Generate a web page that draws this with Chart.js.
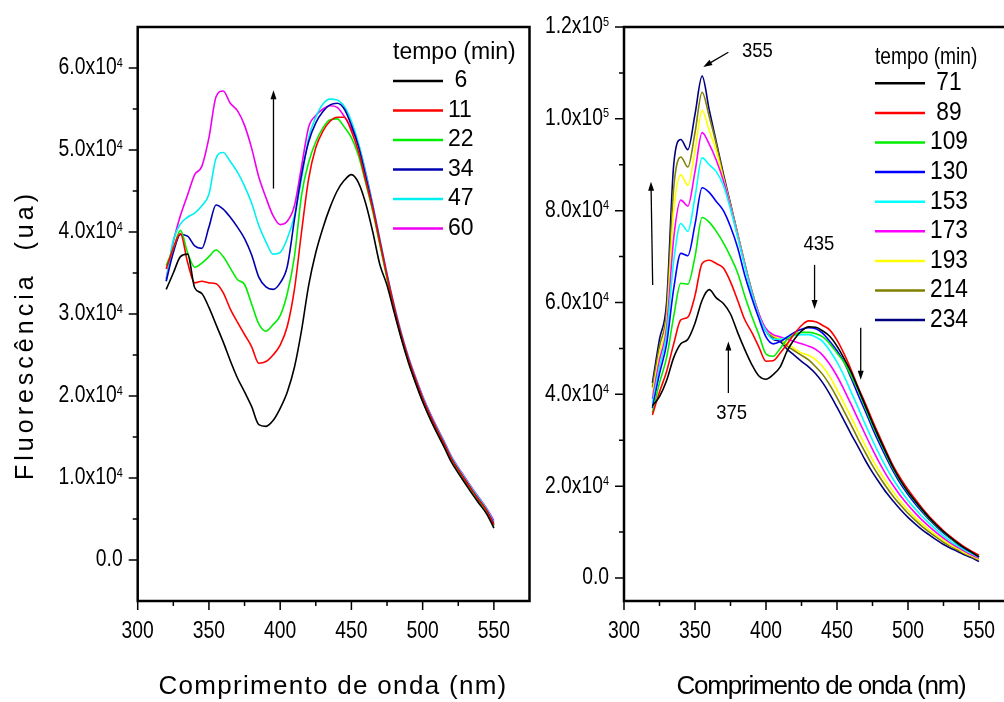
<!DOCTYPE html>
<html>
<head>
<meta charset="utf-8">
<script src="https://cdn.jsdelivr.net/npm/chart.js@4.4.1/dist/chart.umd.min.js"></script>
<style>
  html, body { margin: 0; padding: 0; background: #fff; overflow: hidden; width: 1004px; height: 702px; }
  #left { position: absolute; left: 0; top: 0; }
  #right { position: absolute; left: 545px; top: 0; }
</style>
</head>
<body>
<canvas id="left" width="545" height="702"></canvas>
<canvas id="right" width="485" height="702"></canvas>
<script>
// Fluorescence spectra, values in thousands (x10^3 ua)
const wavelengths = [320,325,330,335,340,345,350,355,360,365,370,375,380,385,390,395,400,405,410,415,420,425,430,435,440,445,450,455,460,465,470,475,480,485,490,495,500,505,510,515,520,525,530,535,540,545,550];

// left panel: tempo (min)
const leftTimes = [' 6', '11', '22', '34', '47', '60'];
const leftColors = ['#000000', '#ff0000', '#00ee00', '#0000b0', '#00f0f0', '#f000f0'];
const left06 = [33.0,35.0,37.0,37.3,33.2,32.5,30.8,28.7,26.6,24.3,22.2,20.5,18.7,16.5,16.3,17.0,18.5,20.5,23.5,28.0,33.5,37.5,40.5,43.0,45.0,46.3,47.0,46.0,43.5,40.0,36.0,33.5,30.2,27.0,24.1,21.6,19.3,17.3,15.5,13.8,12.0,10.6,9.3,8.0,6.8,5.6,3.9];
const left11 = [35.5,38.0,39.8,36.3,33.8,34.0,33.8,33.7,32.6,30.6,29.0,27.5,26.0,24.0,24.2,25.0,26.2,28.5,33.0,40.0,46.5,50.3,52.3,53.5,54.0,54.0,52.3,49.8,46.3,42.8,38.7,34.6,30.8,27.4,24.5,22.0,19.7,17.7,15.9,14.2,12.4,11.0,9.7,8.4,7.2,6.0,4.3];
const left22 = [35.9,38.0,40.2,37.5,35.7,36.2,37.0,37.8,37.0,35.6,34.2,33.6,31.2,28.8,27.9,28.7,29.8,32.5,37.0,44.5,48.5,51.0,52.7,53.7,53.8,52.8,51.5,49.3,46.0,42.5,38.4,34.3,30.5,27.1,24.2,21.7,19.4,17.4,15.6,13.9,12.2,10.8,9.5,8.2,7.0,5.8,4.1];
const left34 = [34.0,37.5,39.7,39.5,38.3,38.0,40.6,43.3,42.8,41.8,40.6,39.2,37.2,34.5,33.3,33.0,33.8,35.8,41.5,47.0,51.0,53.3,54.7,55.5,55.7,55.0,53.0,50.4,46.8,43.0,38.8,34.6,30.8,27.4,24.5,22.0,19.7,17.7,15.9,14.2,12.4,11.0,9.7,8.4,7.2,6.0,4.4];
const left47 = [34.0,39.0,41.0,41.8,42.3,43.2,44.6,49.0,49.7,48.6,47.3,45.6,43.5,40.8,38.8,37.3,37.5,39.2,42.0,46.5,51.5,54.0,55.6,56.2,56.1,55.3,53.5,50.8,47.2,43.2,39.0,34.8,31.0,27.6,24.7,22.2,19.9,17.9,16.1,14.4,12.6,11.2,9.9,8.6,7.4,6.2,4.6];
const left60 = [34.3,38.8,42.0,44.5,47.0,48.0,51.5,56.5,57.2,55.7,54.8,53.0,50.2,46.7,44.2,42.0,40.9,41.3,43.2,48.0,52.8,54.2,55.0,55.4,55.2,54.1,52.6,50.6,47.3,43.3,39.1,34.9,31.1,27.7,24.8,22.3,20.0,18.0,16.2,14.5,12.7,11.3,10.0,8.7,7.5,6.3,4.8];

// right panel: tempo (min)
const rightTimes = [' 71', ' 89', '109', '130', '153', '173', '193', '214', '234'];
const rightColors = ['#000000', '#ff0000', '#00ee00', '#0000ff', '#00ffff', '#ff00ff', '#ffff00', '#808000', '#000080'];
const right071 = [37.5,39.5,43.0,48.0,51.0,52.0,55.5,60.5,62.8,61.0,59.8,57.5,53.5,49.8,46.5,44.0,43.3,44.3,46.0,49.5,52.0,53.8,54.7,54.6,53.8,52.6,50.5,47.8,44.8,41.2,37.5,33.8,30.3,27.0,23.8,21.1,18.8,16.8,14.9,13.1,11.5,10.1,8.8,7.6,6.5,5.6,4.6];
const right089 = [35.5,40.5,45.0,51.0,56.2,56.8,61.5,68.5,69.2,68.5,67.5,64.5,60.5,56.3,53.5,50.3,47.2,47.3,49.0,51.0,53.2,55.0,56.0,55.8,55.0,54.0,51.8,48.8,45.3,41.5,38.0,34.3,30.8,27.4,24.2,21.6,19.3,17.2,15.2,13.4,11.8,10.3,9.0,7.8,6.7,5.8,5.0];
const right109 = [36.0,42.5,48.0,57.0,64.2,64.0,70.0,78.5,77.5,75.5,73.0,70.0,66.5,61.5,57.0,53.0,48.8,48.3,50.0,52.0,53.0,53.5,53.5,53.2,52.5,51.0,49.0,47.0,44.0,40.8,37.0,33.3,29.9,26.6,23.5,20.9,18.6,16.6,14.7,12.9,11.4,10.0,8.7,7.5,6.5,5.6,4.7];
const right130 = [37.0,44.5,51.0,63.0,70.7,70.2,77.0,85.0,84.0,82.0,80.0,76.5,72.0,66.0,61.0,56.5,52.5,51.0,51.5,52.5,53.5,54.2,54.5,54.3,53.3,51.5,49.5,47.0,43.5,39.8,36.3,32.6,29.2,26.0,23.0,20.4,18.2,16.2,14.4,12.7,11.2,9.8,8.6,7.4,6.4,5.5,4.6];
const right153 = [38.0,46.0,53.0,69.0,77.2,75.5,83.0,91.5,90.0,88.5,85.5,80.3,74.3,68.0,62.0,57.0,53.8,52.0,52.0,52.5,52.8,53.0,53.0,52.5,51.5,49.5,47.0,44.0,40.5,37.0,33.4,30.0,26.8,23.9,21.3,19.0,16.9,15.1,13.4,11.9,10.5,9.2,8.0,7.0,6.1,5.3,4.5];
const right173 = [39.0,47.5,54.5,74.0,82.3,81.0,88.5,97.0,94.5,91.0,86.5,80.8,74.6,68.3,62.3,57.5,54.3,53.0,52.5,52.0,51.5,51.0,50.5,49.8,48.5,46.5,44.0,41.0,37.8,34.5,31.2,28.0,25.0,22.3,20.0,17.8,15.9,14.2,12.6,11.2,9.9,8.7,7.6,6.7,5.8,5.0,4.3];
const right193 = [40.0,49.0,56.0,80.0,87.8,85.5,93.0,101.8,97.5,93.0,87.0,81.0,74.8,68.4,62.4,57.5,54.2,52.8,52.0,51.0,50.0,49.0,48.5,47.5,46.0,43.8,41.0,38.0,35.0,31.8,28.8,25.8,23.2,20.8,18.6,16.6,14.8,13.2,11.8,10.5,9.3,8.2,7.2,6.4,5.5,4.8,4.1];
const right214 = [41.5,50.5,58.0,85.0,91.7,89.5,97.0,105.8,100.5,94.5,87.5,81.3,75.0,68.5,62.5,57.5,54.0,52.5,52.0,50.5,49.5,48.5,47.5,46.0,44.3,42.0,39.3,36.3,33.3,30.2,27.3,24.5,22.0,19.7,17.6,15.8,14.1,12.6,11.2,10.0,8.9,7.8,6.9,6.1,5.3,4.6,3.9];
const right234 = [42.5,52.0,60.0,90.0,95.5,93.3,101.0,109.3,102.0,95.0,88.0,81.5,75.0,68.5,62.5,57.5,53.8,52.0,51.5,49.8,48.5,47.2,46.0,44.5,42.5,40.0,37.2,34.3,31.3,28.5,25.6,23.0,20.7,18.5,16.6,14.8,13.2,11.8,10.5,9.4,8.3,7.3,6.5,5.8,5.0,4.4,3.6];

// axes ticks and labels
const xTicks = [300, 350, 400, 450, 500, 550];
const xMinor = [325, 375, 425, 475, 525];
const leftYTicks = [0, 10, 20, 30, 40, 50, 60];
const leftYMinor = [5, 15, 25, 35, 45, 55];
const leftYMant = ['0.0', '1.0x10', '2.0x10', '3.0x10', '4.0x10', '5.0x10', '6.0x10'];
const leftYExp = ['', '4', '4', '4', '4', '4', '4'];
const rightYTicks = [0, 20, 40, 60, 80, 100, 120];
const rightYMinor = [10, 30, 50, 70, 90, 110];
const rightYMant = ['0.0', '2.0x10', '4.0x10', '6.0x10', '8.0x10', '1.0x10', '1.2x10'];
const rightYExp = ['', '4', '4', '4', '4', '5', '5'];

// arrows [x1, y1, x2, y2] in data units, head at the second point
const leftArrows = [[395.3, 45.3, 395.3, 57.3]];
const rightArrows = [[373.5, 114.5, 355.8, 111.3], [434.2, 68.2, 434.2, 58.6], [373.5, 40.3, 373.5, 51.5], [466.7, 54.5, 466.7, 43.2], [320.2, 63.8, 319.0, 86.3]];
const rightNotes = [['355', 394.0, 114.8], ['435', 437.3, 72.7], ['375', 375.8, 36.0]];

const FONT = '"Liberation Sans", Arial, sans-serif';

function drawText(ctx, s, x, y, size, opt) {
    opt = opt || {};
    ctx.save();
    ctx.font = size + 'px ' + FONT;
    ctx.letterSpacing = (opt.ls || 0) + 'px';
    ctx.fillStyle = '#000';
    ctx.textBaseline = 'middle';
    ctx.textAlign = opt.align || 'left';
    ctx.translate(x, y);
    ctx.scale(opt.sx || 1, 1);
    ctx.fillText(s, 0, 0);
    ctx.restore();
}

function textWidth(ctx, s, size, sx) {
    ctx.save();
    ctx.font = size + 'px ' + FONT;
    const w = ctx.measureText(s).width * sx;
    ctx.restore();
    return w;
}

function drawArrow(ctx, x1, y1, x2, y2) {
    const a = Math.atan2(y2 - y1, x2 - x1);
    ctx.save();
    ctx.strokeStyle = '#000';
    ctx.fillStyle = '#000';
    ctx.lineWidth = 1.3;
    ctx.beginPath();
    ctx.moveTo(x1, y1);
    ctx.lineTo(x2 - 6 * Math.cos(a), y2 - 6 * Math.sin(a));
    ctx.stroke();
    ctx.beginPath();
    ctx.moveTo(x2, y2);
    ctx.lineTo(x2 - 9 * Math.cos(a) + 3 * Math.sin(a), y2 - 9 * Math.sin(a) - 3 * Math.cos(a));
    ctx.lineTo(x2 - 9 * Math.cos(a) - 3 * Math.sin(a), y2 - 9 * Math.sin(a) + 3 * Math.cos(a));
    ctx.closePath();
    ctx.fill();
    ctx.restore();
}

// frame, ticks, labels, legend and notes drawn after the lines
function panelPlugin(p) {
    return {
        id: 'panel',
        afterDraw(chart) {
            const ctx = chart.ctx;
            const a = chart.chartArea;
            const xs = chart.scales.x, ys = chart.scales.y;
            ctx.save();
            ctx.strokeStyle = '#000';
            ctx.lineWidth = 2.5;
            ctx.strokeRect(a.left, a.top, a.right - a.left, a.bottom - a.top);
            ctx.lineWidth = 1.5;
            ctx.beginPath();
            p.yTicks.forEach(v => { const y = ys.getPixelForValue(v); ctx.moveTo(a.left - 9, y); ctx.lineTo(a.left, y); });
            p.yMinor.forEach(v => { const y = ys.getPixelForValue(v); ctx.moveTo(a.left - 5, y); ctx.lineTo(a.left, y); });
            xTicks.forEach(v => { const x = xs.getPixelForValue(v); ctx.moveTo(x, a.bottom); ctx.lineTo(x, a.bottom + 9); });
            xMinor.forEach(v => { const x = xs.getPixelForValue(v); ctx.moveTo(x, a.bottom); ctx.lineTo(x, a.bottom + 5); });
            ctx.stroke();
            ctx.restore();

            // y tick labels with superscript exponent
            p.yTicks.forEach((v, i) => {
                const y = ys.getPixelForValue(v);
                const xr = a.left - 15;
                const ew = p.yExp[i] ? textWidth(ctx, p.yExp[i], 13, 0.84) : 0;
                drawText(ctx, p.yMant[i], xr - ew, y, 23, {align: 'right', sx: 0.84});
                if (p.yExp[i]) drawText(ctx, p.yExp[i], xr, y - 5, 13, {align: 'right', sx: 0.84});
            });
            xTicks.forEach(v => drawText(ctx, String(v), xs.getPixelForValue(v), 632, 23, {align: 'center', sx: 0.84}));

            // x title
            drawText(ctx, 'Comprimento de onda (nm)', p.titleX, 687, 26, {align: 'center', ls: p.titleLs});

            // legend
            const lg = p.legend;
            drawText(ctx, 'tempo (min)', lg.x, lg.titleY, lg.titleSize, {sx: lg.titleSx});
            p.times.forEach((t, i) => {
                const y = lg.y0 + lg.dy * i;
                ctx.save();
                ctx.strokeStyle = p.colors[i];
                ctx.lineWidth = 2.5;
                ctx.beginPath();
                ctx.moveTo(lg.x, y);
                ctx.lineTo(lg.x + 50, y);
                ctx.stroke();
                ctx.restore();
                drawText(ctx, t, lg.x + 55, y, lg.size, {sx: lg.sx});
            });

            p.arrows.forEach(r => drawArrow(ctx, xs.getPixelForValue(r[0]), ys.getPixelForValue(r[1]), xs.getPixelForValue(r[2]), ys.getPixelForValue(r[3])));
            p.notes.forEach(n => drawText(ctx, n[0], xs.getPixelForValue(n[1]), ys.getPixelForValue(n[2]), 21, {align: 'center', sx: 0.88}));

            if (p.yTitle) {
                ctx.save();
                ctx.translate(26, 335);
                ctx.rotate(-Math.PI / 2);
                drawText(ctx, 'Fluorescência  (ua)', 0, 0, 25, {align: 'center', ls: 4});
                ctx.restore();
            }
        }
    };
}

function makeSets(list, colors) {
    return list.map((vals, i) => ({
        data: wavelengths.map((w, j) => ({x: w, y: vals[j]})),
        borderColor: colors[i],
        borderWidth: 1.6,
        pointRadius: 0,
        fill: false,
        cubicInterpolationMode: 'monotone'
    }));
}

function makeChart(id, sets, yMin, yMax, padding, plugin) {
    return new Chart(document.getElementById(id), {
        type: 'line',
        data: {datasets: sets},
        options: {
            responsive: false,
            animation: false,
            devicePixelRatio: 1,
            events: [],
            layout: {padding: padding},
            plugins: {legend: {display: false}, tooltip: {enabled: false}},
            scales: {
                x: {type: 'linear', display: false, min: 300, max: 575},
                y: {type: 'linear', display: false, min: yMin, max: yMax}
            }
        },
        plugins: [plugin]
    });
}

makeChart('left',
    makeSets([left06, left11, left22, left34, left47, left60], leftColors),
    -5, 65,
    {left: 137.7, right: 15.5, top: 27, bottom: 101},
    panelPlugin({
        yTicks: leftYTicks, yMinor: leftYMinor, yMant: leftYMant, yExp: leftYExp,
        titleX: 333, titleLs: 1.3,
        times: leftTimes, colors: leftColors,
        legend: {x: 393, titleY: 53, titleSize: 23, titleSx: 1, y0: 81, dy: 29.5, size: 23, sx: 1},
        arrows: leftArrows, notes: [], yTitle: true
    }));

makeChart('right',
    makeSets([right071, right089, right109, right130, right153, right173, right193, right214, right234], rightColors),
    -5, 120,
    {left: 79, right: 15.5, top: 27, bottom: 101},
    panelPlugin({
        yTicks: rightYTicks, yMinor: rightYMinor, yMant: rightYMant, yExp: rightYExp,
        titleX: 276, titleLs: -1.2,
        times: rightTimes, colors: rightColors,
        legend: {x: 330, titleY: 57, titleSize: 24, titleSx: 0.8, y0: 83.3, dy: 29.6, size: 25, sx: 0.91},
        arrows: rightArrows, notes: rightNotes, yTitle: false
    }));
</script>
</body>
</html>
